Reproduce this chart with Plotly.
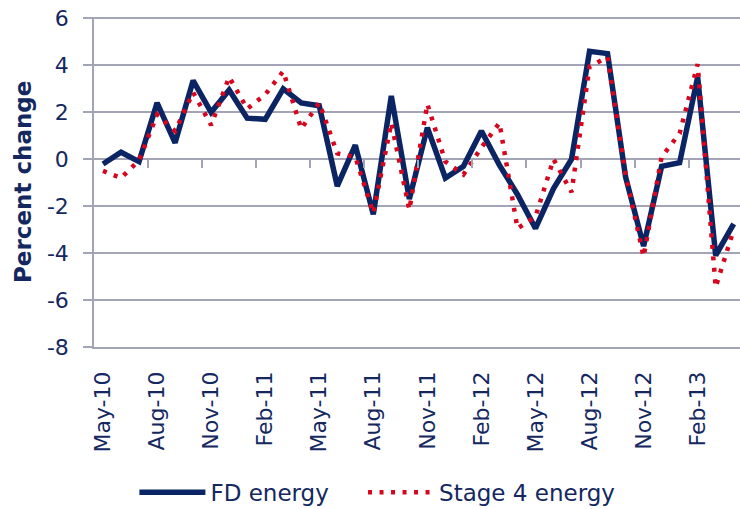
import plotly.graph_objects as go

# monthly percent change, May-10 .. Apr-13
MONTHS = [
    "May-10", "Jun-10", "Jul-10", "Aug-10", "Sep-10", "Oct-10",
    "Nov-10", "Dec-10", "Jan-11", "Feb-11", "Mar-11", "Apr-11",
    "May-11", "Jun-11", "Jul-11", "Aug-11", "Sep-11", "Oct-11",
    "Nov-11", "Dec-11", "Jan-12", "Feb-12", "Mar-12", "Apr-12",
    "May-12", "Jun-12", "Jul-12", "Aug-12", "Sep-12", "Oct-12",
    "Nov-12", "Dec-12", "Jan-13", "Feb-13", "Mar-13", "Apr-13",
]

FD_ENERGY = [
    -0.2, 0.3, -0.1, 2.4, 0.7, 3.35,
    2.0, 2.95, 1.75, 1.7, 3.0, 2.4,
    2.28, -1.15, 0.6, -2.35, 2.7, -1.7,
    1.35, -0.8, -0.3, 1.2, -0.25, -1.5,
    -2.95, -1.25, 0.0, 4.6, 4.5, -0.75,
    -3.7, -0.3, -0.15, 3.5, -4.1, -2.75,
]

STAGE4_ENERGY = [
    -0.5, -0.8, -0.05, 1.9, 1.2, 2.85,
    1.45, 3.5, 2.15, 2.75, 3.75, 1.3,
    2.4, 0.25, 0.1, -2.3, 1.55, -2.15,
    2.35, -0.1, -0.65, 0.5, 1.55, -2.95,
    -2.45, 0.0, -1.4, 3.95, 4.35, -0.65,
    -4.15, 0.1, 1.1, 4.05, -5.45, -3.0,
]

Y_TICKS = [6, 4, 2, 0, -2, -4, -6, -8]
LABEL_EVERY = 3

NAVY = "#0B2463"
RED = "#D7061F"
GRID = "#A3A5B6"
TEXT = "#14285F"
FONT = "DejaVu Sans"

x = list(range(len(MONTHS)))
x_range = [-0.5, len(MONTHS) - 0.65]
# a little headroom so plotly keeps the top gridline
y_range = [min(Y_TICKS), max(Y_TICKS) + 0.06]

fig = go.Figure()
fig.add_trace(go.Scatter(
    x=x, y=FD_ENERGY, mode="lines",
    name="FD energy" + "\u00a0" * 4,  # widens the gap between legend entries
    line=dict(color=NAVY, width=5.5), xaxis="x", yaxis="y",
))
fig.add_trace(go.Scatter(
    x=x, y=STAGE4_ENERGY, mode="lines", name="Stage 4 energy",
    line=dict(color=RED, width=4.5, dash="4px,7.5px"), xaxis="x2", yaxis="y",
))

# category-boundary tick marks sit on the zero line, as in the source chart
zero_pos = (0 - y_range[0]) / (y_range[1] - y_range[0])

fig.update_layout(
    width=740, height=509,
    paper_bgcolor="white", plot_bgcolor="white",
    margin=dict(l=94, r=0, t=17, b=162),
    font=dict(family=FONT, color=TEXT, size=22),
    showlegend=True,
    legend=dict(
        orientation="h", xref="container", yref="container",
        x=0.51, y=0.033, xanchor="center", yanchor="middle",
        font=dict(size=23, color=TEXT), itemwidth=66,
        bgcolor="rgba(0,0,0,0)", traceorder="normal",
    ),
    xaxis=dict(
        range=x_range, tickmode="array",
        tickvals=x[::LABEL_EVERY], ticktext=MONTHS[::LABEL_EVERY],
        tickangle=-90, ticks="", showgrid=False, zeroline=False,
        showline=True, linecolor=GRID, linewidth=1.5,
        ticklabelstandoff=14, tickfont=dict(size=22, color=TEXT),
    ),
    xaxis2=dict(
        range=x_range, overlaying="x", anchor="free", position=zero_pos,
        tickmode="array",
        tickvals=[i - 0.5 for i in x[LABEL_EVERY::LABEL_EVERY]],
        ticks="outside", ticklen=8, tickwidth=1.5, tickcolor=GRID,
        showticklabels=False, showgrid=False, zeroline=False, showline=False,
    ),
    yaxis=dict(
        range=y_range, tickmode="array", tickvals=Y_TICKS,
        ticktext=[str(v) for v in Y_TICKS], ticklabeloverflow="allow",
        showgrid=True, gridcolor=GRID, gridwidth=1.5, zeroline=False,
        showline=True, linecolor=GRID, linewidth=1.5,
        ticks="outside", ticklen=9, tickwidth=1.5, tickcolor=GRID,
        ticklabelstandoff=10, tickfont=dict(size=22, color=TEXT),
        automargin=False,
    ),
)

# y title as a rotated annotation so it sits where the source chart has it
fig.add_annotation(
    text="<b>Percent change</b>", textangle=-90,
    xref="paper", yref="paper", x=-71 / 646, y=0.5,
    xanchor="center", yanchor="middle", showarrow=False,
    font=dict(size=23, color=TEXT),
)

# drop the browser's default 8px body margin so the figure sits at the corner
fig.write_html(
    "out.html",
    config={"displayModeBar": False},
    post_script="document.body.style.margin = '0px';",
)
